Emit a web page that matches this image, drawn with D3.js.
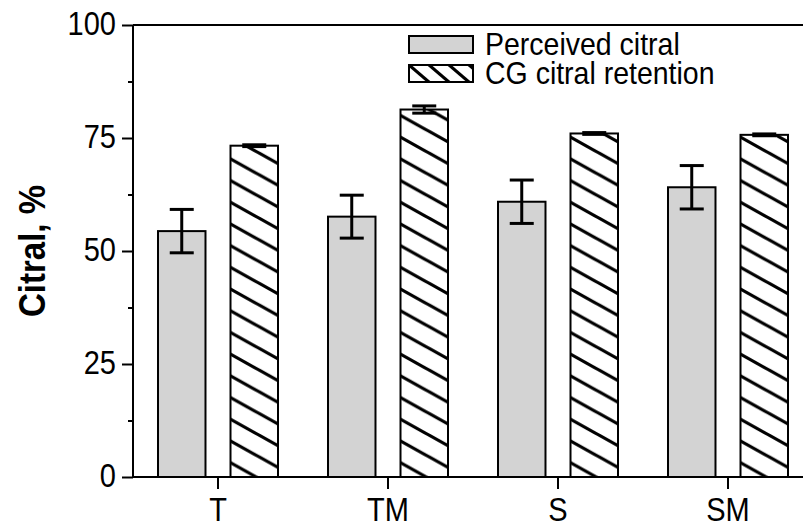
<!DOCTYPE html>
<html>
<head>
<meta charset="utf-8">
<script src="https://cdn.jsdelivr.net/npm/d3@7"></script>
<style>
  body { margin: 0; background: #fff; }
  text { font-family: "Liberation Sans", Arial, sans-serif; fill: #000; }
</style>
</head>
<body>
<svg width="803" height="527"></svg>
<script>
// data
var categories = ["T", "TM", "S", "SM"];
var seriesNames = ["Perceived citral", "CG citral retention"];
var perceived = [54.4, 57.6, 60.9, 64.1];
var perceivedErr = [4.8, 4.75, 4.8, 4.8];
var retention = [73.3, 81.3, 76.0, 75.7];
var retentionErr = [0.2, 0.8, 0.2, 0.2];
var yTicks = [0, 25, 50, 75, 100];
var yMinor = [12.5, 37.5, 62.5, 87.5];

var svg = d3.select("svg");
var plotLeft = 133, plotRight = 813, plotTop = 25, plotBottom = 477;
var stretch = 1.13; // text in the original is a bit taller than Arial

var x = d3.scaleBand().domain(categories).range([plotLeft, plotRight]);
var x1 = d3.scaleBand().domain(seriesNames).range([-60, 60]).paddingInner(0.345);
var y = d3.scaleLinear().domain([0, 100]).range([plotBottom, plotTop]);

// hatch patterns
var defs = svg.append("defs");
function hatch(id, w, h) {
  var p = defs.append("pattern")
    .attr("id", id)
    .attr("patternUnits", "userSpaceOnUse")
    .attr("width", w).attr("height", h);
  p.append("rect").attr("width", w).attr("height", h).attr("fill", "#fff");
  [-1, 0, 1].forEach(function(k) {
    p.append("line")
      .attr("x1", -w).attr("y1", -h + k * h)
      .attr("x2", 2 * w).attr("y2", 2 * h + k * h)
      .attr("stroke", "#000").attr("stroke-width", 3.2);
  });
}
hatch("hatch", 39, 21.7);
hatch("hatch-legend", 20, 17);

var rows = categories.map(function(c, i) {
  return [
    {cat: c, s: seriesNames[0], v: perceived[i], e: perceivedErr[i]},
    {cat: c, s: seriesNames[1], v: retention[i], e: retentionErr[i]}
  ];
});

var groups = svg.append("g").selectAll("g")
  .data(rows)
  .enter().append("g")
  .attr("transform", function(d) { return "translate(" + (x(d[0].cat) + x.bandwidth() / 2) + ",0)"; });

groups.selectAll("rect")
  .data(function(d) { return d; })
  .enter().append("rect")
  .attr("x", function(d) { return x1(d.s); })
  .attr("width", x1.bandwidth())
  .attr("y", function(d) { return y(d.v); })
  .attr("height", function(d) { return y(0) - y(d.v); })
  .attr("fill", function(d) { return d.s === seriesNames[0] ? "#d3d3d3" : "url(#hatch)"; })
  .attr("stroke", "#000")
  .attr("stroke-width", 2);

// error bars
var err = groups.selectAll(".err")
  .data(function(d) { return d; })
  .enter().append("g")
  .attr("class", "err")
  .attr("stroke", "#000")
  .attr("stroke-width", 3);
err.append("line")
  .attr("x1", function(d) { return x1(d.s) + x1.bandwidth() / 2; })
  .attr("x2", function(d) { return x1(d.s) + x1.bandwidth() / 2; })
  .attr("y1", function(d) { return y(d.v + d.e); })
  .attr("y2", function(d) { return y(d.v - d.e); });
[1, -1].forEach(function(sign) {
  err.append("line")
    .attr("x1", function(d) { return x1(d.s) + x1.bandwidth() / 2 - 12; })
    .attr("x2", function(d) { return x1(d.s) + x1.bandwidth() / 2 + 12; })
    .attr("y1", function(d) { return y(d.v + sign * d.e); })
    .attr("y2", function(d) { return y(d.v + sign * d.e); });
});

// axes
var yAxis = svg.append("g")
  .attr("transform", "translate(" + plotLeft + ",0)")
  .call(d3.axisLeft(y).tickValues(yTicks).tickSize(11).tickPadding(6));
var yMinorAxis = svg.append("g")
  .attr("transform", "translate(" + plotLeft + ",0)")
  .call(d3.axisLeft(y).tickValues(yMinor).tickSize(5).tickFormat(""));
yMinorAxis.select(".domain").remove();

var xAxis = svg.append("g")
  .attr("transform", "translate(0," + plotBottom + ")")
  .call(d3.axisBottom(x).tickSize(12).tickPadding(6).tickSizeOuter(0));

svg.selectAll(".domain, .tick line").attr("stroke", "#000").attr("stroke-width", 2);
yAxis.select(".domain").attr("d", "M0," + plotBottom + "V" + plotTop);
xAxis.select(".domain").attr("d", "M" + plotLeft + ",0H" + plotRight);

yAxis.selectAll(".tick text")
  .style("font-size", "29px").attr("fill", "#000")
  .attr("x", null).attr("y", 0).attr("dy", 0)
  .attr("transform", "translate(-17,9.5) scale(1," + stretch + ")");
xAxis.selectAll(".tick text")
  .style("font-size", "29px").attr("fill", "#000")
  .attr("y", 0).attr("dy", 0)
  .attr("transform", "translate(0,44) scale(1," + stretch + ")");

// top frame line
svg.append("line")
  .attr("x1", plotLeft).attr("x2", plotRight)
  .attr("y1", plotTop).attr("y2", plotTop)
  .attr("stroke", "#000").attr("stroke-width", 2);

svg.append("text")
  .attr("transform", "translate(45," + ((plotTop + plotBottom) / 2) + ") rotate(-90) scale(1," + stretch + ")")
  .attr("text-anchor", "middle")
  .style("font-size", "33px")
  .style("font-weight", "bold")
  .text("Citral, %");

// legend
var legend = svg.append("g").attr("transform", "translate(409,36)");
var li = legend.selectAll("g")
  .data(seriesNames)
  .enter().append("g")
  .attr("transform", function(d, i) { return "translate(0," + (i * 29) + ")"; });
li.append("rect")
  .attr("width", 64).attr("height", 17)
  .attr("fill", function(d, i) { return i === 0 ? "#d3d3d3" : "url(#hatch-legend)"; })
  .attr("stroke", "#000").attr("stroke-width", 2);
li.append("text")
  .attr("transform", "translate(76,19) scale(1," + stretch + ")")
  .style("font-size", "28.5px")
  .text(function(d) { return d; });
</script>
</body>
</html>
